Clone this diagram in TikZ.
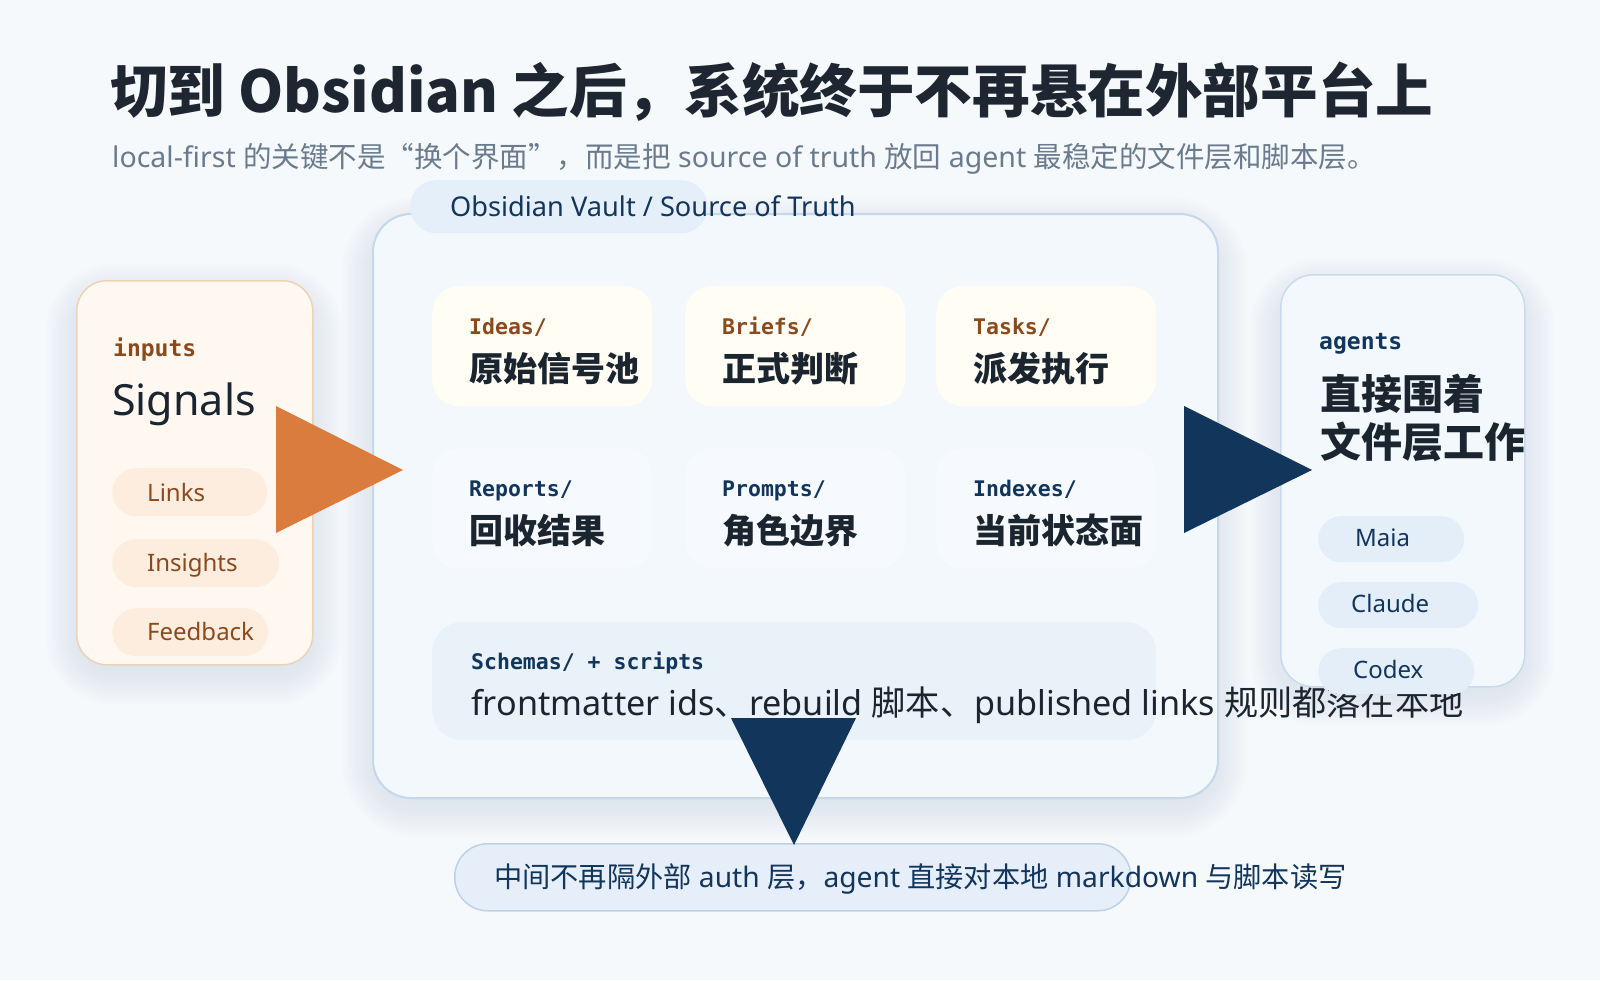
\documentclass[tikz,border=0pt]{standalone}
\usepackage{fontspec}
\setmainfont{Noto Sans}
\newfontfamily\cjk{Noto Sans CJK SC}
\newfontfamily\monof{DejaVu Sans Mono}
\newcommand\zh[1]{{\cjk #1}}
\newcommand\setfs[1]{\fontsize{#1}{#1}\selectfont}
\definecolor{bgc}{HTML}{F5F9FC}
\definecolor{titlec}{HTML}{1E2731}
\definecolor{subc}{HTML}{6A7B8E}
\definecolor{navy}{HTML}{12355B}
\definecolor{brownc}{HTML}{8B4A1D}
\definecolor{orangec}{HTML}{D97C3E}
\definecolor{vaultfill}{HTML}{F3F8FD}
\definecolor{vaultline}{HTML}{C6D7E9}
\definecolor{tabfill}{HTML}{E5EFF9}
\definecolor{creamtile}{HTML}{FFFDF4}
\definecolor{bluetile}{HTML}{F6F9FD}
\definecolor{schemafill}{HTML}{E9F1F9}
\definecolor{leftfill}{HTML}{FFF8F1}
\definecolor{leftline}{HTML}{EDD2B6}
\definecolor{leftpill}{HTML}{FDEDDE}
\definecolor{rightfill}{HTML}{F3F8FD}
\definecolor{rightline}{HTML}{C8DAEC}
\definecolor{rightpill}{HTML}{E4EEF8}
\definecolor{bannerfill}{HTML}{E6EFF9}
\definecolor{bannerline}{HTML}{BDD1E6}
\definecolor{darktext}{HTML}{1B2530}
\definecolor{shadowc}{HTML}{8A96A3}
\newcommand\softshadow[5]{%
  \foreach \i in {1,...,12}{%
    \pgfmathsetmacro\rr{#5+3*\i}%
    \fill[shadowc,opacity=0.011,rounded corners=\rr pt]
      ({#1-3*\i+6},{#2-3*\i+20}) rectangle ({#3+3*\i-6},{#4+3*\i+4});}}
\newcommand\tile[7]{%
  \node[boxn, minimum width=220pt, minimum height=120pt, fill=#4, rounded corners=26pt] (#1) at (#2,#3) {};
  \node[txt, text=#5, font={\monof\bfseries\setfs{21.5}}] (#1-label) at ({#2+37},{#3+48}) {#6};
  \node[txt, text=darktext, font={\cjk\bfseries\setfs{34}}] (#1-text) at ({#2+37},{#3+95}) {#7};}
\begin{document}
\begin{tikzpicture}[x=1pt,y=-1pt,
  txt/.style={inner sep=0pt, anchor=base west},
  boxn/.style={rectangle, inner sep=0pt, anchor=north west},
  pillleft/.style={boxn, minimum height=48pt, fill=leftpill, rounded corners=24pt},
  pillright/.style={boxn, minimum height=46pt, fill=rightpill, rounded corners=23pt},
  pilltxtleft/.style={txt, text=brownc, font=\setfs{24}},
  pilltxtright/.style={txt, text=navy, font=\setfs{24}}]
\useasboundingbox (0,0) rectangle (1600,980);
\fill[bgc] (0,0) rectangle (1600,980);

% title
\node[txt, text=titlec, font={\cjk\bfseries\setfs{57.6}}] (title) at (110,112)
  {切到 Obsidian 之后，系统终于不再悬在外部平台上};
\node[txt, text=subc, font=\setfs{28.5}] (subtitle) at (112,167)
  {local-first \zh{的关键不是“换个界面”，而是把} source of truth \zh{放回} agent \zh{最稳定的文件层和脚本层。}};

% shadows
\softshadow{372}{213}{1217}{797}{38}
\softshadow{76}{280}{312}{664}{30}
\softshadow{1280}{274}{1524}{686}{33}

% vault card
\node[boxn, minimum width=845pt, minimum height=584pt, fill=vaultfill, draw=vaultline, line width=2pt, rounded corners=38pt] (vault) at (372,213) {};
\node[boxn, minimum width=297pt, minimum height=53pt, fill=tabfill, rounded corners=26pt] (tab) at (410,180) {};
\node[txt, text=navy, font=\setfs{27.2}] (tabtext) at (450,216) {Obsidian Vault / Source of Truth};

\tile{ideas}{432}{286}{creamtile}{brownc}{Ideas/}{原始信号池}
\tile{briefs}{685}{286}{creamtile}{brownc}{Briefs/}{正式判断}
\tile{tasks}{936}{286}{creamtile}{brownc}{Tasks/}{派发执行}
\tile{reports}{432}{448}{bluetile}{navy}{Reports/}{回收结果}
\tile{prompts}{685}{448}{bluetile}{navy}{Prompts/}{角色边界}
\tile{indexes}{936}{448}{bluetile}{navy}{Indexes/}{当前状态面}

% right card (below overflowing text)
\node[boxn, minimum width=244pt, minimum height=412pt, fill=rightfill, draw=rightline, line width=1.5pt, rounded corners=33pt] (agentscard) at (1280,274) {};

% schemas
\node[boxn, minimum width=724pt, minimum height=118pt, fill=schemafill, rounded corners=30pt] (schemas) at (432,622) {};
\node[txt, text=navy, font={\monof\bfseries\setfs{21.5}}] (schemaslabel) at (471,669) {Schemas/ + scripts};
\node[txt, text=darktext, font=\setfs{34.2}] (schemastext) at (471,715)
  {frontmatter ids\zh{、}rebuild \zh{脚本、}published links \zh{规则都落在本地}};

% left card
\node[boxn, minimum width=236pt, minimum height=384pt, fill=leftfill, draw=leftline, line width=1.5pt, rounded corners=30pt] (inputscard) at (76,280) {};
\node[txt, text=brownc, font={\monof\bfseries\setfs{23}}] (inputs) at (113,356) {inputs};
\node[txt, text=darktext, font=\setfs{43}] (signals) at (112,415) {Signals};
\node[pillleft, minimum width=155pt] (links) at (112,468) {};
\node[pilltxtleft] (linkst) at (147,501) {Links};
\node[pillleft, minimum width=167pt] (insights) at (112,539) {};
\node[pilltxtleft] (insightst) at (147,571) {Insights};
\node[pillleft, minimum width=156pt] (feedback) at (112,608) {};
\node[pilltxtleft] (feedbackt) at (147,640) {Feedback};

% right card contents
\node[txt, text=navy, font={\monof\bfseries\setfs{23}}] (agents) at (1319,349) {agents};
\node[txt, text=darktext, font={\cjk\bfseries\setfs{41}}] (agentsl1) at (1320,409) {直接围着};
\node[txt, text=darktext, font={\cjk\bfseries\setfs{41}}] (agentsl2) at (1320,457) {文件层工作};
\node[pillright, minimum width=146pt] (maia) at (1318,516) {};
\node[pilltxtright] (maiat) at (1355,546) {Maia};
\node[pillright, minimum width=160pt] (claude) at (1318,582) {};
\node[pilltxtright] (claudet) at (1351,612) {Claude};
\node[pillright, minimum width=156pt] (codex) at (1318,648) {};
\node[pilltxtright] (codext) at (1353,678) {Codex};

% banner
\node[boxn, minimum width=676pt, minimum height=67pt, fill=bannerfill, draw=bannerline, line width=1.5pt, rounded corners=33pt] (banner) at (454,843) {};
\node[txt, text=navy, font=\setfs{28.2}] (bannertext) at (494,887)
  {\zh{中间不再隔外部} auth \zh{层，}agent \zh{直接对本地} markdown \zh{与脚本读写}};

% triangles
\fill[orangec] (276,406) -- (276,533) -- (403,470) -- cycle;
\fill[navy] (1184,406) -- (1184,533) -- (1312,470) -- cycle;
\fill[navy] (731,718) -- (856,718) -- (794,845) -- cycle;
\end{tikzpicture}
\end{document}
